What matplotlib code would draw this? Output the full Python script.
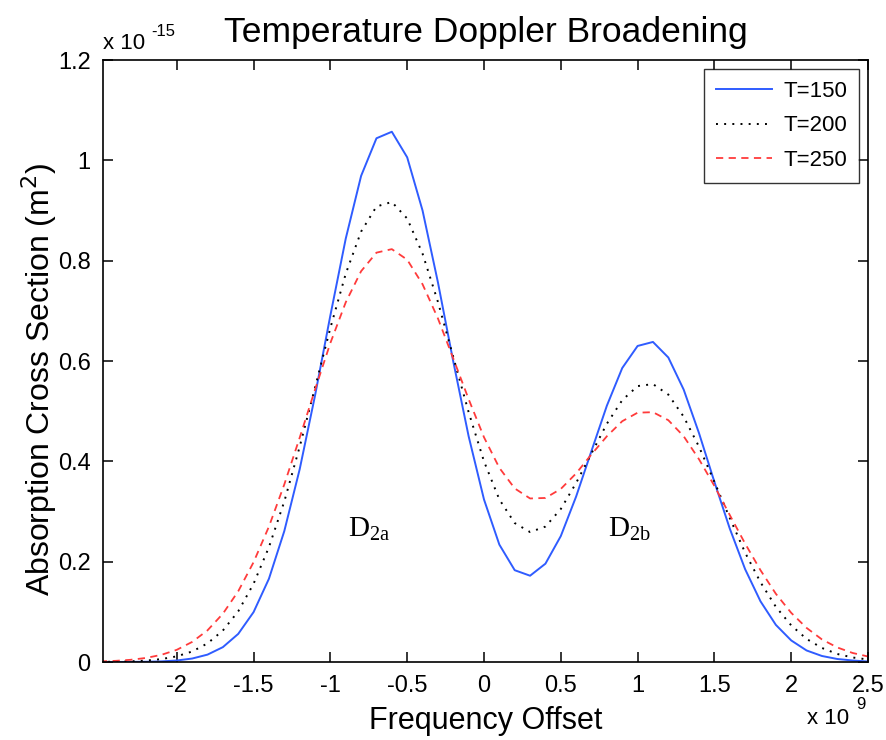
import matplotlib.pyplot as plt
from matplotlib.ticker import FuncFormatter
import numpy as np

plt.rcParams['font.family'] = ['Liberation Sans', 'DejaVu Sans']
plt.rcParams['mathtext.fontset'] = 'custom'
plt.rcParams['mathtext.rm'] = 'Liberation Serif'

# frequency offset (x 1e9 Hz)
freq = [-2.5, -2.4, -2.3, -2.2, -2.1, -2.0, -1.9, -1.8, -1.7, -1.6,
        -1.5, -1.4, -1.3, -1.2, -1.1, -1.0, -0.9, -0.8, -0.7, -0.6,
        -0.5, -0.4, -0.3, -0.2, -0.1, 0.0, 0.1, 0.2, 0.3, 0.4,
        0.5, 0.6, 0.7, 0.8, 0.9, 1.0, 1.1, 1.2, 1.3, 1.4,
        1.5, 1.6, 1.7, 1.8, 1.9, 2.0, 2.1, 2.2, 2.3, 2.4, 2.5]

# absorption cross section (x 1e-15 m^2)
t150 = [0.000, 0.000, 0.0002, 0.0005, 0.0012, 0.003, 0.0069, 0.0147, 0.0296, 0.056,
        0.0995, 0.166, 0.261, 0.384, 0.531, 0.691, 0.844, 0.969, 1.044, 1.057,
        1.006, 0.900, 0.757, 0.599, 0.450, 0.324, 0.234, 0.183, 0.172, 0.196,
        0.251, 0.330, 0.421, 0.511, 0.586, 0.630, 0.638, 0.607, 0.543, 0.456,
        0.359, 0.266, 0.185, 0.121, 0.074, 0.043, 0.023, 0.012, 0.006, 0.003, 0.001]
t200 = [0.0003, 0.0006, 0.0013, 0.0028, 0.0058, 0.0113, 0.0209, 0.0371, 0.0627, 0.101,
        0.156, 0.229, 0.320, 0.429, 0.547, 0.666, 0.774, 0.858, 0.908, 0.917,
        0.884, 0.814, 0.718, 0.608, 0.498, 0.400, 0.324, 0.277, 0.259, 0.270,
        0.305, 0.357, 0.416, 0.475, 0.522, 0.550, 0.554, 0.533, 0.489, 0.429,
        0.359, 0.287, 0.218, 0.159, 0.110, 0.073, 0.046, 0.028, 0.016, 0.009, 0.005]
t250 = [0.0012, 0.0023, 0.0044, 0.0081, 0.0143, 0.0243, 0.040, 0.0631, 0.0962, 0.141,
        0.199, 0.270, 0.354, 0.447, 0.543, 0.636, 0.717, 0.779, 0.816, 0.823,
        0.802, 0.753, 0.685, 0.605, 0.524, 0.448, 0.387, 0.346, 0.326, 0.327,
        0.345, 0.376, 0.414, 0.450, 0.480, 0.497, 0.498, 0.482, 0.450, 0.404,
        0.351, 0.293, 0.236, 0.183, 0.136, 0.098, 0.068, 0.045, 0.029, 0.018, 0.011]

labels = ['T=150', 'T=200', 'T=250']
xticks = [-2, -1.5, -1, -0.5, 0, 0.5, 1, 1.5, 2, 2.5]
yticks = [0, 0.2, 0.4, 0.6, 0.8, 1, 1.2]

fig = plt.figure(figsize=(8.86, 7.4), dpi=100)
ax = fig.add_axes([0.1163, 0.1054, 0.8634, 0.8135])

ax.plot(freq, t150, color='#2f5cff', linewidth=1.4, label=labels[0])
ax.plot(freq, t200, color='black', linewidth=1.4, linestyle=(0, (1, 3.2)), label=labels[1])
ax.plot(freq, t250, color='#ff3b3b', linewidth=1.3, linestyle=(0, (4, 3)), label=labels[2])

ax.set_xlim(-2.48, 2.5)
ax.set_ylim(0, 1.2)
ax.set_xticks(xticks)
ax.set_yticks(yticks)
fmt = FuncFormatter(lambda v, p: '%g' % v)
ax.xaxis.set_major_formatter(fmt)
ax.yaxis.set_major_formatter(fmt)
ax.tick_params(direction='in', length=7, width=1.1, top=True, right=True,
               labelsize=17, pad=9, colors='black')
for s in ax.spines.values():
    s.set_linewidth(1.2)

ax.set_title('Temperature Doppler Broadening', fontsize=25.5, pad=13)
ax.set_xlabel('Frequency Offset', fontsize=22, labelpad=7)
ax.set_ylabel('Absorption Cross Section (m$^2$)', fontsize=23)
ax.yaxis.set_label_coords(-0.058, 0.47)
ax.yaxis.label.set_math_fontfamily('dejavusans')

# MATLAB style exponent labels
ax.text(0.0, 1.01, 'x 10', transform=ax.transAxes, fontsize=16, ha='left', va='bottom')
ax.text(0.063, 1.035, '-15', transform=ax.transAxes, fontsize=12, ha='left', va='bottom')
ax.text(0.92, -0.077, 'x 10', transform=ax.transAxes, fontsize=16, ha='left', va='top')
ax.text(0.985, -0.058, '9', transform=ax.transAxes, fontsize=12, ha='left', va='top')

# peak annotations
ax.text(-0.75, 0.265, r'D$_{\mathrm{2a}}$', fontsize=21, family='Liberation Serif',
        ha='center', va='center')
ax.text(0.95, 0.265, r'D$_{\mathrm{2b}}$', fontsize=21, family='Liberation Serif',
        ha='center', va='center')

leg = ax.legend(loc='upper right', fontsize=16, fancybox=False, frameon=True,
                borderaxespad=0.4, handlelength=2.5, handletextpad=0.5,
                labelspacing=0.6, borderpad=0.55)
leg.get_frame().set_edgecolor('black')
leg.get_frame().set_linewidth(1.0)

plt.savefig('out.png', dpi=100)
